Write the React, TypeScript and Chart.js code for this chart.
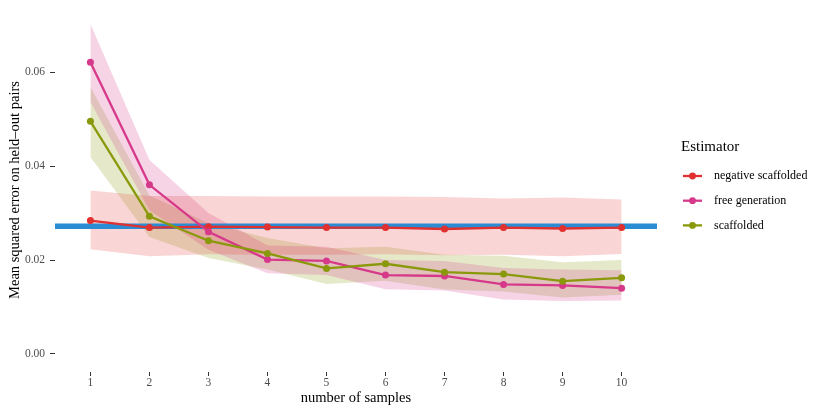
import { useEffect, useRef } from "react";
import { Chart, registerables } from "chart.js";

Chart.register(...registerables);

// number of samples
const samples = [1, 2, 3, 4, 5, 6, 7, 8, 9, 10];

// negative scaffolded
const negMean = [0.0284, 0.0269, 0.0271, 0.027, 0.0269, 0.0269, 0.0266, 0.0269, 0.0267, 0.0269];
const negUpper = [0.0348, 0.0336, 0.0336, 0.0335, 0.0335, 0.0335, 0.0334, 0.0331, 0.0333, 0.0329];
const negLower = [0.0223, 0.0208, 0.0212, 0.0211, 0.0211, 0.0212, 0.021, 0.0211, 0.0208, 0.0213];

// free generation
const freeMean = [0.0621, 0.036, 0.026, 0.0201, 0.0198, 0.0168, 0.0166, 0.0148, 0.0146, 0.014];
const freeUpper = [0.0702, 0.0413, 0.03, 0.0231, 0.0228, 0.02, 0.0198, 0.0183, 0.018, 0.0178];
const freeLower = [0.0536, 0.0306, 0.0222, 0.0172, 0.0168, 0.0138, 0.0135, 0.0116, 0.0113, 0.0114];

// scaffolded
const scafMean = [0.0495, 0.0293, 0.0241, 0.0214, 0.0182, 0.0192, 0.0174, 0.017, 0.0155, 0.0162];
const scafUpper = [0.0568, 0.0337, 0.0278, 0.0247, 0.0225, 0.0228, 0.0211, 0.0209, 0.0195, 0.02];
const scafLower = [0.0419, 0.0249, 0.0204, 0.018, 0.0149, 0.0156, 0.0137, 0.0133, 0.012, 0.0126];

// reference level (horizontal line)
const baseline = 0.0272;

const yTicks = [0, 0.02, 0.04, 0.06];
const seriesNames = ["negative scaffolded", "free generation", "scaffolded"];
const seriesColors = ["#e0302f", "#d6388a", "#8a990c"];
const ribbonColors = ["rgba(224,48,47,0.2)", "rgba(214,56,138,0.22)", "rgba(138,153,12,0.22)"];

const FONT = "'Liberation Serif', 'DejaVu Serif', serif";

const pts = (vals: number[]) => vals.map((v, i) => ({ x: samples[i], y: v }));

const ribbon = (upper: number[], lower: number[], color: string) => [
  {
    label: "upper",
    data: pts(upper),
    borderWidth: 0,
    pointRadius: 0,
    backgroundColor: color,
    fill: "+1",
    order: 5,
  },
  {
    label: "lower",
    data: pts(lower),
    borderWidth: 0,
    pointRadius: 0,
    backgroundColor: color,
    fill: false,
    order: 5,
  },
];

const line = (vals: number[], color: string, order: number) => ({
  label: "mean",
  data: pts(vals),
  borderColor: color,
  backgroundColor: color,
  borderWidth: 2.3,
  pointRadius: 3.5,
  pointBorderWidth: 0,
  fill: false,
  order,
});

// ggplot-like legend on the right
const legendPlugin = {
  id: "ggLegend",
  afterDraw(chart: any) {
    const ctx = chart.ctx;
    const x0 = chart.chartArea.right + 24;
    ctx.save();
    ctx.fillStyle = "#000";
    ctx.textBaseline = "middle";
    ctx.textAlign = "left";
    ctx.font = `15px ${FONT}`;
    ctx.fillText("Estimator", x0, 147);
    ctx.font = `12px ${FONT}`;
    seriesNames.forEach((name, i) => {
      const y = 176 + i * 24.7;
      ctx.strokeStyle = seriesColors[i];
      ctx.lineWidth = 2.3;
      ctx.beginPath();
      ctx.moveTo(x0 + 2, y);
      ctx.lineTo(x0 + 21, y);
      ctx.stroke();
      ctx.fillStyle = seriesColors[i];
      ctx.beginPath();
      ctx.arc(x0 + 11.5, y, 3.4, 0, Math.PI * 2);
      ctx.fill();
      ctx.fillStyle = "#000";
      ctx.fillText(name, x0 + 33, y);
    });
    ctx.restore();
  },
};

const App = () => {
  const chartRef = useRef<HTMLCanvasElement>(null);
  const chartInstanceRef = useRef<Chart>();

  useEffect(() => {
    if (!chartRef.current) return;
    const ctx = chartRef.current.getContext("2d");

    if (chartInstanceRef.current) {
      chartInstanceRef.current.destroy();
    }

    chartInstanceRef.current = new Chart(ctx!, {
      type: "line",
      data: {
        datasets: [
          line(scafMean, seriesColors[2], 1),
          line(freeMean, seriesColors[1], 2),
          line(negMean, seriesColors[0], 3),
          {
            label: "baseline",
            data: [
              { x: 0.4, y: baseline },
              { x: 10.6, y: baseline },
            ],
            borderColor: "#2b8bd3",
            borderWidth: 5.5,
            pointRadius: 0,
            fill: false,
            order: 4,
          },
          ...ribbon(negUpper, negLower, ribbonColors[0]),
          ...ribbon(freeUpper, freeLower, ribbonColors[1]),
          ...ribbon(scafUpper, scafLower, ribbonColors[2]),
        ] as any,
      },
      options: {
        animation: false,
        responsive: true,
        maintainAspectRatio: false,
        layout: { padding: { top: 8, right: 173, left: 0, bottom: 0 } },
        plugins: {
          legend: { display: false },
          tooltip: { enabled: false },
        },
        scales: {
          x: {
            type: "linear",
            min: 0.4,
            max: 10.6,
            afterBuildTicks: (scale: any) => {
              scale.ticks = samples.map((v) => ({ value: v }));
            },
            afterFit: (scale: any) => {
              scale.height = 43;
              scale.paddingLeft = 0;
              scale.paddingRight = 0;
            },
            border: { display: false },
            grid: {
              drawOnChartArea: false,
              drawTicks: true,
              tickLength: 4,
              color: "#333333",
            },
            ticks: {
              padding: 0,
              color: "#4d4d4d",
              font: { family: FONT, size: 11.5 },
              callback: (v: any) => String(v),
            },
            title: {
              display: true,
              text: "number of samples",
              color: "#000",
              font: { family: FONT, size: 14.5 },
              padding: { top: 0, bottom: 8 },
            },
          },
          y: {
            type: "linear",
            min: -0.00383,
            max: 0.07362,
            afterBuildTicks: (scale: any) => {
              scale.ticks = yTicks.map((v) => ({ value: v }));
            },
            afterFit: (scale: any) => {
              scale.width = 55;
              scale.paddingTop = 0;
              scale.paddingBottom = 0;
            },
            border: { display: false },
            grid: {
              drawOnChartArea: false,
              drawTicks: true,
              tickLength: 5,
              color: "#333333",
            },
            ticks: {
              padding: 5,
              color: "#4d4d4d",
              font: { family: FONT, size: 11.5 },
              callback: (v: any) => Number(v).toFixed(2),
            },
            title: {
              display: true,
              text: "Mean squared error on held\u2013out pairs",
              color: "#000",
              font: { family: FONT, size: 14.5 },
              padding: { top: 6, bottom: 0 },
            },
          },
        },
      },
      plugins: [legendPlugin],
    });

    return () => {
      if (chartInstanceRef.current) {
        chartInstanceRef.current.destroy();
      }
    };
  }, []);

  return (
    <div style={{ position: "fixed", left: 0, top: 0, width: 830, height: 415, background: "#fff" }}>
      <canvas ref={chartRef}></canvas>
    </div>
  );
};

export default App;
